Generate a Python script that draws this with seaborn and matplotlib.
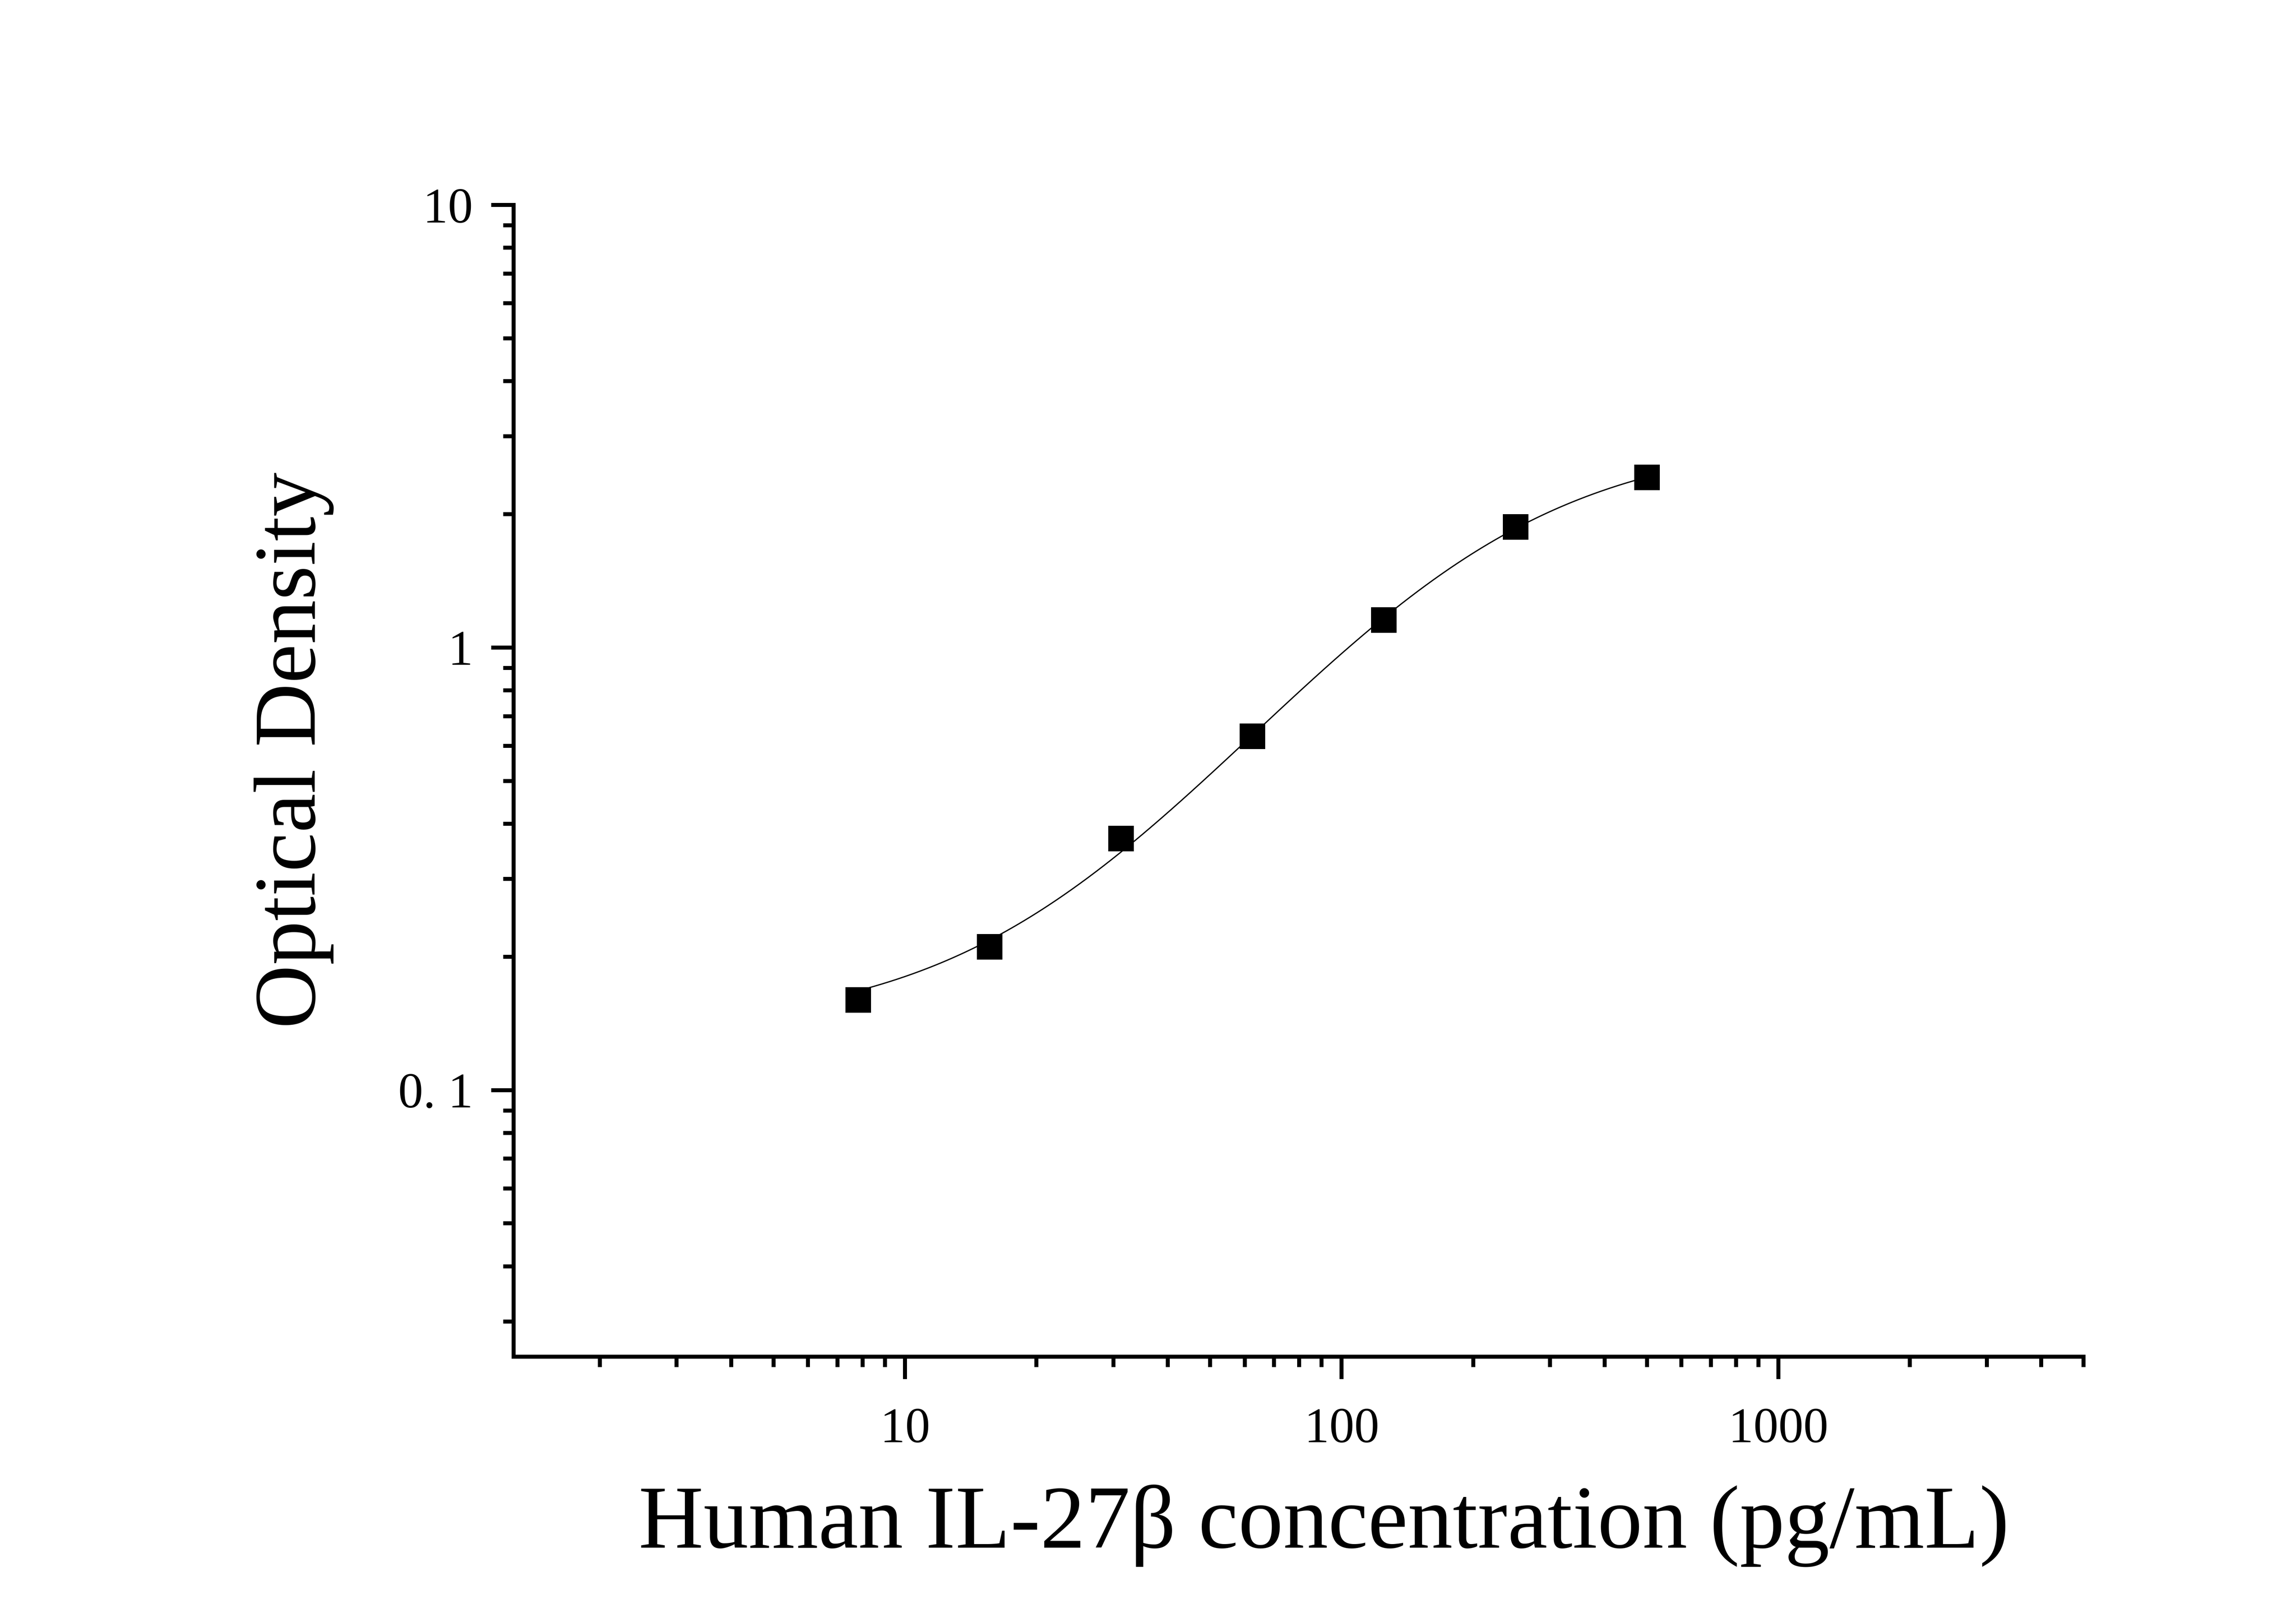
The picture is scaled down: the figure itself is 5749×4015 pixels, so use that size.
import numpy as np
import pandas as pd
import seaborn as sns
import matplotlib
matplotlib.use("Agg")
from matplotlib import pyplot as plt
from matplotlib import ticker

# standard curve data
conc = [7.8125, 15.625, 31.25, 62.5, 125, 250, 500]
od = [0.160, 0.211, 0.370, 0.631, 1.153, 1.872, 2.423]

x_ticks = [10, 100, 1000]
x_ticklabels = ["10", "100", "1000"]
y_ticks = [0.1, 1, 10]
y_ticklabels = ["0. 1", "1", "10"]

x_label = "Human IL-27\u03b2 concentration (pg/mL)"
y_label = "Optical Density"


# 4-parameter logistic fit of the standards
def four_pl(p, x):
    a, b, logc, d = p
    return d + (a - d) / (1.0 + (x / 10 ** logc) ** b)


def fit_4pl(x, y):
    x = np.asarray(x, float)
    y = np.asarray(y, float)
    p = np.array([0.12, 1.5, 2.0, 3.0])
    lam = 1e-2
    for _ in range(500):
        r = y - four_pl(p, x)
        J = np.empty((len(x), 4))
        for k in range(4):
            dp = np.zeros(4)
            dp[k] = 1e-6
            J[:, k] = (four_pl(p + dp, x) - four_pl(p - dp, x)) / 2e-6
        A = J.T @ J
        step = np.linalg.solve(A + lam * np.diag(np.diag(A)), J.T @ r)
        p_new = p + step
        if np.sum((y - four_pl(p_new, x)) ** 2) < np.sum(r ** 2):
            p = p_new
            lam *= 0.5
        else:
            lam *= 4
    return p


params = fit_4pl(conc, od)
x_fit = np.logspace(np.log10(conc[0]), np.log10(conc[-1]), 400)
curve = pd.DataFrame({"conc": x_fit, "od": four_pl(params, x_fit)})
points = pd.DataFrame({"conc": conc, "od": od})

sns.set_theme(style="ticks")
plt.rcParams["font.family"] = ["Liberation Serif", "DejaVu Serif"]
plt.rcParams["axes.linewidth"] = 2.4

fig = plt.figure(figsize=(5749 / 300, 4015 / 300), dpi=300)
ax = fig.add_axes([0.2237, 0.1542, 0.9075 - 0.2237, 0.8722 - 0.1542])

sns.lineplot(data=curve, x="conc", y="od", color="black", linewidth=0.75,
             ax=ax, zorder=2)
sns.scatterplot(data=points, x="conc", y="od", marker="s", s=240,
                color="black", linewidth=0, ax=ax, zorder=3)

ax.set_xscale("log")
ax.set_yscale("log")
ax.set_xlim(1.27, 5000)
ax.set_ylim(0.025, 10)

ax.xaxis.set_major_locator(ticker.FixedLocator(x_ticks))
ax.xaxis.set_major_formatter(ticker.FixedFormatter(x_ticklabels))
ax.yaxis.set_major_locator(ticker.FixedLocator(y_ticks))
ax.yaxis.set_major_formatter(ticker.FixedFormatter(y_ticklabels))
ax.xaxis.set_minor_locator(ticker.LogLocator(base=10, subs=np.arange(2, 10), numticks=20))
ax.yaxis.set_minor_locator(ticker.LogLocator(base=10, subs=np.arange(2, 10), numticks=20))
ax.xaxis.set_minor_formatter(ticker.NullFormatter())
ax.yaxis.set_minor_formatter(ticker.NullFormatter())

ax.tick_params(which="major", direction="out", length=13.4, width=2.4,
               labelsize=30, color="black", labelcolor="black")
ax.tick_params(axis="x", which="major", pad=17)
ax.tick_params(axis="y", which="major", pad=11)
ax.tick_params(which="minor", direction="out", length=6.2, width=2.4, color="black")

for side in ["top", "right"]:
    ax.spines[side].set_visible(False)
for side in ["left", "bottom"]:
    ax.spines[side].set_color("black")
    ax.spines[side].set_linewidth(2.4)

ax.set_xlabel(x_label, fontsize=54, color="black")
ax.set_ylabel(y_label, fontsize=53, color="black")
ax.xaxis.set_label_coords(0.516, -0.111)
ax.yaxis.set_label_coords(-0.1145, 0.5265)

ax.set_facecolor("white")
fig.patch.set_facecolor("white")

plt.savefig("out.png", dpi=300, facecolor="white")
